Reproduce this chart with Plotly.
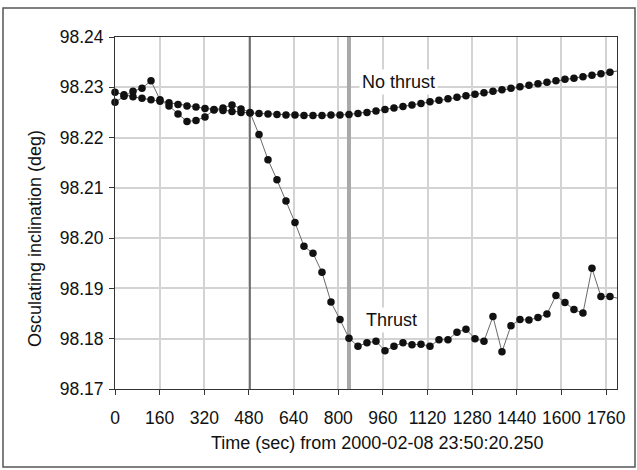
import plotly.graph_objects as go

# Sample times (s) from 2000-02-08 23:50:20.250, one sample every 32.25 s
n_samples = 57
step_sec = 32.25
time_sec = [round(i * step_sec, 2) for i in range(n_samples)]

# Osculating inclination (deg), propagated without thrust
incl_no_thrust = [
    98.2290, 98.2285, 98.2281, 98.2278, 98.2275, 98.2272, 98.2269, 98.2266,
    98.2263, 98.2261, 98.2258, 98.2256, 98.2254, 98.2252, 98.2250, 98.2249,
    98.2248, 98.2247, 98.2246, 98.2245, 98.2245, 98.2244, 98.2244, 98.2244,
    98.2245, 98.2245, 98.2246, 98.2248, 98.2250, 98.2253, 98.2256, 98.2259,
    98.2262, 98.2265, 98.2268, 98.2271, 98.2274, 98.2277, 98.2280, 98.2283,
    98.2286, 98.2289, 98.2292, 98.2295, 98.2298, 98.2301, 98.2304, 98.2307,
    98.2310, 98.2313, 98.2316, 98.2318, 98.2321, 98.2324, 98.2327, 98.2330,
    98.2333,
]

# Osculating inclination (deg) with the thrust arc applied
incl_thrust = [
    98.2270, 98.2282, 98.2292, 98.2298, 98.2313, 98.2275, 98.2263, 98.2247,
    98.2232, 98.2234, 98.2241, 98.2255, 98.2259, 98.2265, 98.2257, 98.2250,
    98.2206, 98.2156, 98.2116, 98.2074, 98.2031, 98.1984, 98.1970, 98.1932,
    98.1873, 98.1838, 98.1801, 98.1785, 98.1792, 98.1795, 98.1776, 98.1785,
    98.1792, 98.1788, 98.1789, 98.1785, 98.1798, 98.1798, 98.1813, 98.1819,
    98.1800, 98.1795, 98.1844, 98.1774, 98.1826, 98.1838, 98.1837, 98.1842,
    98.1849, 98.1886, 98.1872, 98.1858, 98.1851, 98.1940, 98.1884, 98.1884,
    98.1880,
]

# Thrust start / end markers (s)
thrust_start = 483.75
thrust_end = 838.5

x_ticks = [0, 160, 320, 480, 640, 800, 960, 1120, 1280, 1440, 1600, 1760]
y_ticks = [98.17, 98.18, 98.19, 98.20, 98.21, 98.22, 98.23, 98.24]
x_range = [0, 1799]
y_range = [98.17, 98.24]

FONT = "Liberation Sans, Arial, sans-serif"

fig = go.Figure()

# event lines, drawn first so the markers sit on top of them
fig.add_trace(go.Scatter(
    x=[thrust_start, thrust_start], y=y_range, mode="lines",
    line=dict(color="#3a3a3a", width=1.3), hoverinfo="skip", showlegend=False,
))
fig.add_trace(go.Scatter(
    x=[thrust_end, thrust_end], y=y_range, mode="lines",
    line=dict(color="#a9a9a9", width=4), hoverinfo="skip", showlegend=False,
))

fig.add_trace(go.Scatter(
    x=time_sec, y=incl_no_thrust, mode="lines+markers", name="No thrust",
    line=dict(color="#555555", width=1),
    marker=dict(color="#111111", size=7.5),
    cliponaxis=False, showlegend=False,
))
fig.add_trace(go.Scatter(
    x=time_sec, y=incl_thrust, mode="lines+markers", name="Thrust",
    line=dict(color="#6a6a6a", width=1),
    marker=dict(color="#111111", size=7.5),
    cliponaxis=False, showlegend=False,
))

W, H = 637, 470
ml, mr, mt, mb = 115, 20, 37, 81
pw, ph = W - ml - mr, H - mt - mb


def px_to_paper(px, py):
    return (px - ml) / pw, (H - mb - py) / ph


x0, y0 = px_to_paper(3, 8)
x1, y1 = px_to_paper(635, 467)

fig.update_layout(
    width=W, height=H,
    margin=dict(l=ml, r=mr, t=mt, b=mb),
    paper_bgcolor="white", plot_bgcolor="white",
    font=dict(family=FONT, size=18, color="#111111"),
    shapes=[dict(
        type="rect", xref="paper", yref="paper",
        x0=x0, y0=y1, x1=x1, y1=y0,
        line=dict(color="#555555", width=1.5), layer="below",
    )],
)

fig.update_xaxes(
    range=x_range, tickmode="array", tickvals=x_ticks,
    ticktext=[str(v) for v in x_ticks],
    showgrid=True, gridcolor="#d3d3d3", gridwidth=2,
    showline=True, linecolor="#333333", linewidth=1, mirror=True,
    ticks="outside", ticklen=5, tickcolor="#333333",
    tickfont=dict(size=17.5), ticklabelstandoff=8, zeroline=False,
)
fig.update_yaxes(
    range=y_range, tickmode="array", tickvals=y_ticks,
    ticktext=[f"{v:.2f}" for v in y_ticks],
    showgrid=True, gridcolor="#d3d3d3", gridwidth=2,
    showline=True, linecolor="#333333", linewidth=1, mirror=True,
    ticks="outside", ticklen=5, tickcolor="#333333",
    tickfont=dict(size=17.5), ticklabelstandoff=2, zeroline=False,
)

xt_x, xt_y = px_to_paper(377, 443)
yt_x, yt_y = px_to_paper(35, 239)
nt_x, nt_y = px_to_paper(398, 82)
th_x, th_y = px_to_paper(391, 320)

fig.add_annotation(
    text="Time (sec) from 2000-02-08 23:50:20.250", xref="paper", yref="paper",
    x=xt_x, y=xt_y, xanchor="center", yanchor="middle", showarrow=False,
    font=dict(size=18),
)
fig.add_annotation(
    text="Osculating inclination (deg)", xref="paper", yref="paper",
    x=yt_x, y=yt_y, xanchor="center", yanchor="middle", showarrow=False,
    textangle=-90, font=dict(size=18),
)
fig.add_annotation(
    text="No thrust", xref="paper", yref="paper",
    x=nt_x, y=nt_y, xanchor="center", yanchor="middle", showarrow=False,
    bgcolor="white", borderpad=2, font=dict(size=18),
)
fig.add_annotation(
    text="Thrust", xref="paper", yref="paper",
    x=th_x, y=th_y, xanchor="center", yanchor="middle", showarrow=False,
    bgcolor="white", borderpad=2, font=dict(size=18),
)

fig.write_html("out.html")
